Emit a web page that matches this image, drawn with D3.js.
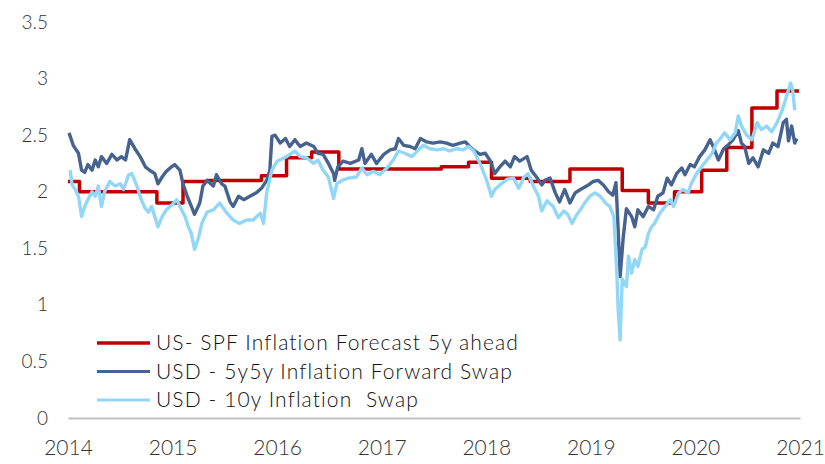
<!DOCTYPE html>
<html>
<head>
<meta charset="utf-8">
<script src="https://cdn.jsdelivr.net/npm/d3@7"></script>
<style>
  html, body { margin: 0; padding: 0; background: #fff; }
  svg { display: block; font-family: Lato, "Open Sans", sans-serif; }
</style>
</head>
<body>
<div id="hook"></div>
<script>
// Data (time given as decimal years)
var spfTimes  = [2014.00, 2014.11, 2014.85, 2015.10, 2015.33, 2015.85, 2016.09, 2016.33, 2016.59, 2017.57, 2017.83, 2018.05, 2018.42, 2018.80, 2019.30, 2019.55, 2019.80, 2020.06, 2020.30, 2020.54, 2020.78, 2020.99];
var spfValues = [2.09, 2.00, 1.90, 2.09, 2.10, 2.14, 2.30, 2.35, 2.20, 2.22, 2.26, 2.12, 2.09, 2.20, 2.01, 1.90, 2.00, 2.19, 2.39, 2.74, 2.89, 2.89];

var fwdTimes = [2014.01, 2014.05, 2014.10, 2014.13, 2014.16, 2014.19, 2014.23, 2014.26, 2014.29, 2014.32, 2014.37, 2014.42, 2014.47, 2014.51, 2014.55, 2014.59, 2014.64, 2014.69, 2014.74, 2014.78, 2014.83, 2014.86, 2014.90, 2014.94, 2014.99,
  2015.02, 2015.07, 2015.10, 2015.14, 2015.18, 2015.21, 2015.26, 2015.29, 2015.33, 2015.39, 2015.42, 2015.47, 2015.50, 2015.55, 2015.58, 2015.63, 2015.68, 2015.74, 2015.80, 2015.85, 2015.90, 2015.93, 2015.95, 2015.98,
  2016.03, 2016.08, 2016.12, 2016.17, 2016.22, 2016.28, 2016.35, 2016.39, 2016.44, 2016.49, 2016.54, 2016.55, 2016.58, 2016.63, 2016.70, 2016.78, 2016.81, 2016.84, 2016.90, 2016.95,
  2017.02, 2017.08, 2017.13, 2017.16, 2017.21, 2017.27, 2017.32, 2017.37, 2017.43, 2017.49, 2017.56, 2017.62, 2017.68, 2017.75, 2017.80, 2017.84, 2017.89, 2017.94, 2017.99,
  2018.04, 2018.08, 2018.13, 2018.18, 2018.23, 2018.27, 2018.32, 2018.39, 2018.43, 2018.48, 2018.53, 2018.56, 2018.61, 2018.66, 2018.70, 2018.75, 2018.80, 2018.85, 2018.90, 2018.96,
  2019.02, 2019.07, 2019.12, 2019.17, 2019.21, 2019.24, 2019.26, 2019.28, 2019.31, 2019.34, 2019.39, 2019.42, 2019.45, 2019.50, 2019.55, 2019.60, 2019.64, 2019.69, 2019.73, 2019.77, 2019.82, 2019.87, 2019.90, 2019.95, 2019.99,
  2020.04, 2020.09, 2020.14, 2020.17, 2020.22, 2020.27, 2020.31, 2020.36, 2020.41, 2020.44, 2020.47, 2020.51, 2020.55, 2020.60, 2020.65, 2020.70, 2020.74, 2020.79, 2020.84, 2020.87, 2020.89, 2020.92, 2020.95, 2020.97];
var fwdValues = [2.52, 2.41, 2.34, 2.19, 2.17, 2.24, 2.19, 2.28, 2.22, 2.31, 2.25, 2.33, 2.28, 2.31, 2.28, 2.46, 2.38, 2.31, 2.22, 2.19, 2.16, 2.07, 2.13, 2.18, 2.22,
  2.24, 2.19, 2.07, 1.96, 1.87, 1.80, 1.90, 2.05, 2.10, 2.05, 2.15, 2.07, 2.05, 1.91, 1.87, 1.96, 1.93, 1.96, 1.99, 2.03, 2.10, 2.19, 2.49, 2.50,
  2.43, 2.47, 2.40, 2.46, 2.40, 2.43, 2.40, 2.34, 2.33, 2.25, 2.16, 2.10, 2.22, 2.27, 2.25, 2.28, 2.38, 2.25, 2.33, 2.25,
  2.33, 2.37, 2.38, 2.47, 2.41, 2.40, 2.38, 2.47, 2.44, 2.43, 2.44, 2.43, 2.41, 2.43, 2.44, 2.40, 2.36, 2.33, 2.34,
  2.27, 2.16, 2.22, 2.27, 2.22, 2.31, 2.27, 2.31, 2.19, 2.13, 2.06, 2.10, 2.12, 1.99, 1.91, 2.02, 1.90, 1.99, 2.02, 2.05,
  2.09, 2.10, 2.06, 2.00, 1.97, 2.08, 1.69, 1.25, 1.60, 1.85, 1.78, 1.69, 1.84, 1.78, 1.87, 1.84, 1.96, 1.99, 2.12, 2.06, 2.16, 2.21, 2.15, 2.24, 2.22,
  2.31, 2.37, 2.46, 2.40, 2.28, 2.38, 2.41, 2.46, 2.54, 2.43, 2.40, 2.25, 2.30, 2.22, 2.37, 2.34, 2.43, 2.40, 2.61, 2.64, 2.45, 2.58, 2.43, 2.47];

var swapTimes = [2014.02, 2014.04, 2014.07, 2014.10, 2014.13, 2014.16, 2014.19, 2014.23, 2014.26, 2014.29, 2014.32, 2014.35, 2014.40, 2014.45, 2014.50, 2014.53, 2014.58, 2014.61, 2014.66, 2014.70, 2014.74, 2014.77, 2014.80, 2014.83, 2014.86, 2014.90, 2014.94, 2014.99,
  2015.04, 2015.07, 2015.12, 2015.15, 2015.18, 2015.21, 2015.25, 2015.28, 2015.33, 2015.39, 2015.45, 2015.52, 2015.58, 2015.64, 2015.71, 2015.77, 2015.84, 2015.87, 2015.90, 2015.95,
  2016.00, 2016.09, 2016.17, 2016.22, 2016.28, 2016.35, 2016.39, 2016.44, 2016.49, 2016.54, 2016.57, 2016.62, 2016.68, 2016.76, 2016.81, 2016.86, 2016.92, 2016.98,
  2017.05, 2017.11, 2017.16, 2017.22, 2017.29, 2017.35, 2017.40, 2017.46, 2017.53, 2017.59, 2017.65, 2017.72, 2017.78, 2017.83, 2017.88, 2017.94,
  2018.00, 2018.05, 2018.08, 2018.13, 2018.20, 2018.26, 2018.31, 2018.36, 2018.40, 2018.45, 2018.50, 2018.53, 2018.58, 2018.64, 2018.69, 2018.74, 2018.78, 2018.82, 2018.86, 2018.90, 2018.94, 2018.99,
  2019.04, 2019.09, 2019.14, 2019.18, 2019.22, 2019.25, 2019.26, 2019.28, 2019.30, 2019.34, 2019.36, 2019.39, 2019.42, 2019.45, 2019.49, 2019.52, 2019.55, 2019.58, 2019.61, 2019.66, 2019.71, 2019.76, 2019.79, 2019.84, 2019.88, 2019.93, 2019.96,
  2020.01, 2020.06, 2020.11, 2020.16, 2020.20, 2020.23, 2020.28, 2020.33, 2020.38, 2020.41, 2020.44, 2020.49, 2020.54, 2020.59, 2020.63, 2020.68, 2020.73, 2020.78, 2020.83, 2020.87, 2020.91, 2020.93, 2020.95];
var swapValues = [2.19, 2.06, 2.02, 1.96, 1.78, 1.87, 1.93, 2.00, 1.96, 2.05, 1.87, 2.00, 2.09, 2.05, 2.07, 2.02, 2.15, 2.16, 2.05, 1.93, 1.85, 1.82, 1.87, 1.78, 1.69, 1.78, 1.84, 1.88,
  1.93, 1.87, 1.78, 1.69, 1.63, 1.49, 1.60, 1.72, 1.82, 1.84, 1.90, 1.81, 1.75, 1.72, 1.75, 1.75, 1.81, 1.72, 1.99, 2.19,
  2.27, 2.31, 2.36, 2.31, 2.30, 2.25, 2.28, 2.19, 2.13, 1.94, 2.07, 2.10, 2.12, 2.13, 2.21, 2.15, 2.18, 2.15,
  2.21, 2.28, 2.36, 2.34, 2.31, 2.37, 2.41, 2.38, 2.37, 2.38, 2.36, 2.38, 2.37, 2.40, 2.36, 2.25,
  2.11, 1.96, 2.02, 2.06, 2.11, 2.12, 2.03, 2.13, 2.16, 2.05, 1.96, 1.83, 1.92, 1.87, 1.77, 1.83, 1.80, 1.72, 1.79, 1.84, 1.90, 1.96,
  1.99, 1.96, 1.90, 1.87, 1.78, 1.25, 0.98, 0.69, 1.23, 1.16, 1.43, 1.28, 1.40, 1.34, 1.49, 1.51, 1.63, 1.69, 1.72, 1.81, 1.87, 1.93, 1.87, 1.99, 2.02, 1.99, 2.07,
  2.16, 2.22, 2.28, 2.34, 2.43, 2.46, 2.52, 2.46, 2.52, 2.67, 2.58, 2.50, 2.46, 2.61, 2.55, 2.58, 2.53, 2.61, 2.72, 2.84, 2.96, 2.90, 2.72];

var seriesNames = ["US- SPF Inflation Forecast 5y ahead", "USD - 5y5y Inflation Forward Swap", "USD - 10y Inflation  Swap"];
var seriesColors = ["#C00000", "#46628F", "#92D7F7"];
var yearTicks = [2014, 2015, 2016, 2017, 2018, 2019, 2020, 2021];
var valueTicks = [0, 0.5, 1, 1.5, 2, 2.5, 3, 3.5];

// SVG
var svg = d3.select("#hook").append("svg")
    .attr("width", 825)
    .attr("height", 464);

var x = d3.scaleLinear().domain([2014, 2021]).range([68, 800]);
var y = d3.scaleLinear().domain([0, 3.5]).range([418, 22]);

// y axis labels only
var yAxis = svg.append("g")
    .attr("transform", "translate(68,0)")
    .call(d3.axisLeft(y).tickValues(valueTicks).tickSize(0).tickPadding(20).tickFormat(function(d) { return d; }));
yAxis.select(".domain").remove();
yAxis.selectAll("text").attr("font-size", 19).attr("font-weight", 300).attr("fill", "#333").style("font-family", "Lato, sans-serif");

// x axis with grey baseline
var xAxis = svg.append("g")
    .attr("transform", "translate(0,418)")
    .call(d3.axisBottom(x).tickValues(yearTicks).tickSize(0).tickPadding(22).tickFormat(d3.format("d")));
xAxis.select(".domain").attr("stroke", "#BFBFBF").attr("stroke-width", 2);
xAxis.selectAll("text").attr("font-size", 21).attr("font-weight", 300).attr("fill", "#333").style("font-family", "Lato, sans-serif");

// lines
var zip = function(t, v) { return t.map(function(d, i) { return [d, v[i]]; }); };
var series = [
    { data: zip(spfTimes, spfValues), curve: d3.curveStepAfter, width: 3.5 },
    { data: zip(fwdTimes, fwdValues), curve: d3.curveLinear, width: 3.4 },
    { data: zip(swapTimes, swapValues), curve: d3.curveLinear, width: 3.4 }
];

series.forEach(function(s, i) {
    var line = d3.line()
        .x(function(d) { return x(d[0]); })
        .y(function(d) { return y(d[1]); })
        .curve(s.curve);
    svg.append("path")
        .datum(s.data)
        .attr("fill", "none")
        .attr("stroke", seriesColors[i])
        .attr("stroke-width", s.width)
        .attr("stroke-linejoin", "round")
        .attr("d", line);
});

// legend
var legend = svg.selectAll(".legend")
    .data(seriesNames)
    .enter().append("g")
        .attr("class", "legend")
        .attr("transform", function(d, i) { return "translate(97," + (343 + i * 28.5) + ")"; });
legend.append("line")
    .attr("x1", 0).attr("x2", 53)
    .attr("stroke", function(d, i) { return seriesColors[i]; })
    .attr("stroke-width", function(d, i) { return i === 0 ? 3.5 : 3; });
legend.append("text")
    .attr("x", 59)
    .attr("dy", "0.35em")
    .attr("font-size", 21)
    .attr("font-weight", 300)
    .attr("letter-spacing", 1.1)
    .attr("fill", "#111")
    .style("white-space", "pre")
    .text(function(d) { return d; });
</script>
</body>
</html>
